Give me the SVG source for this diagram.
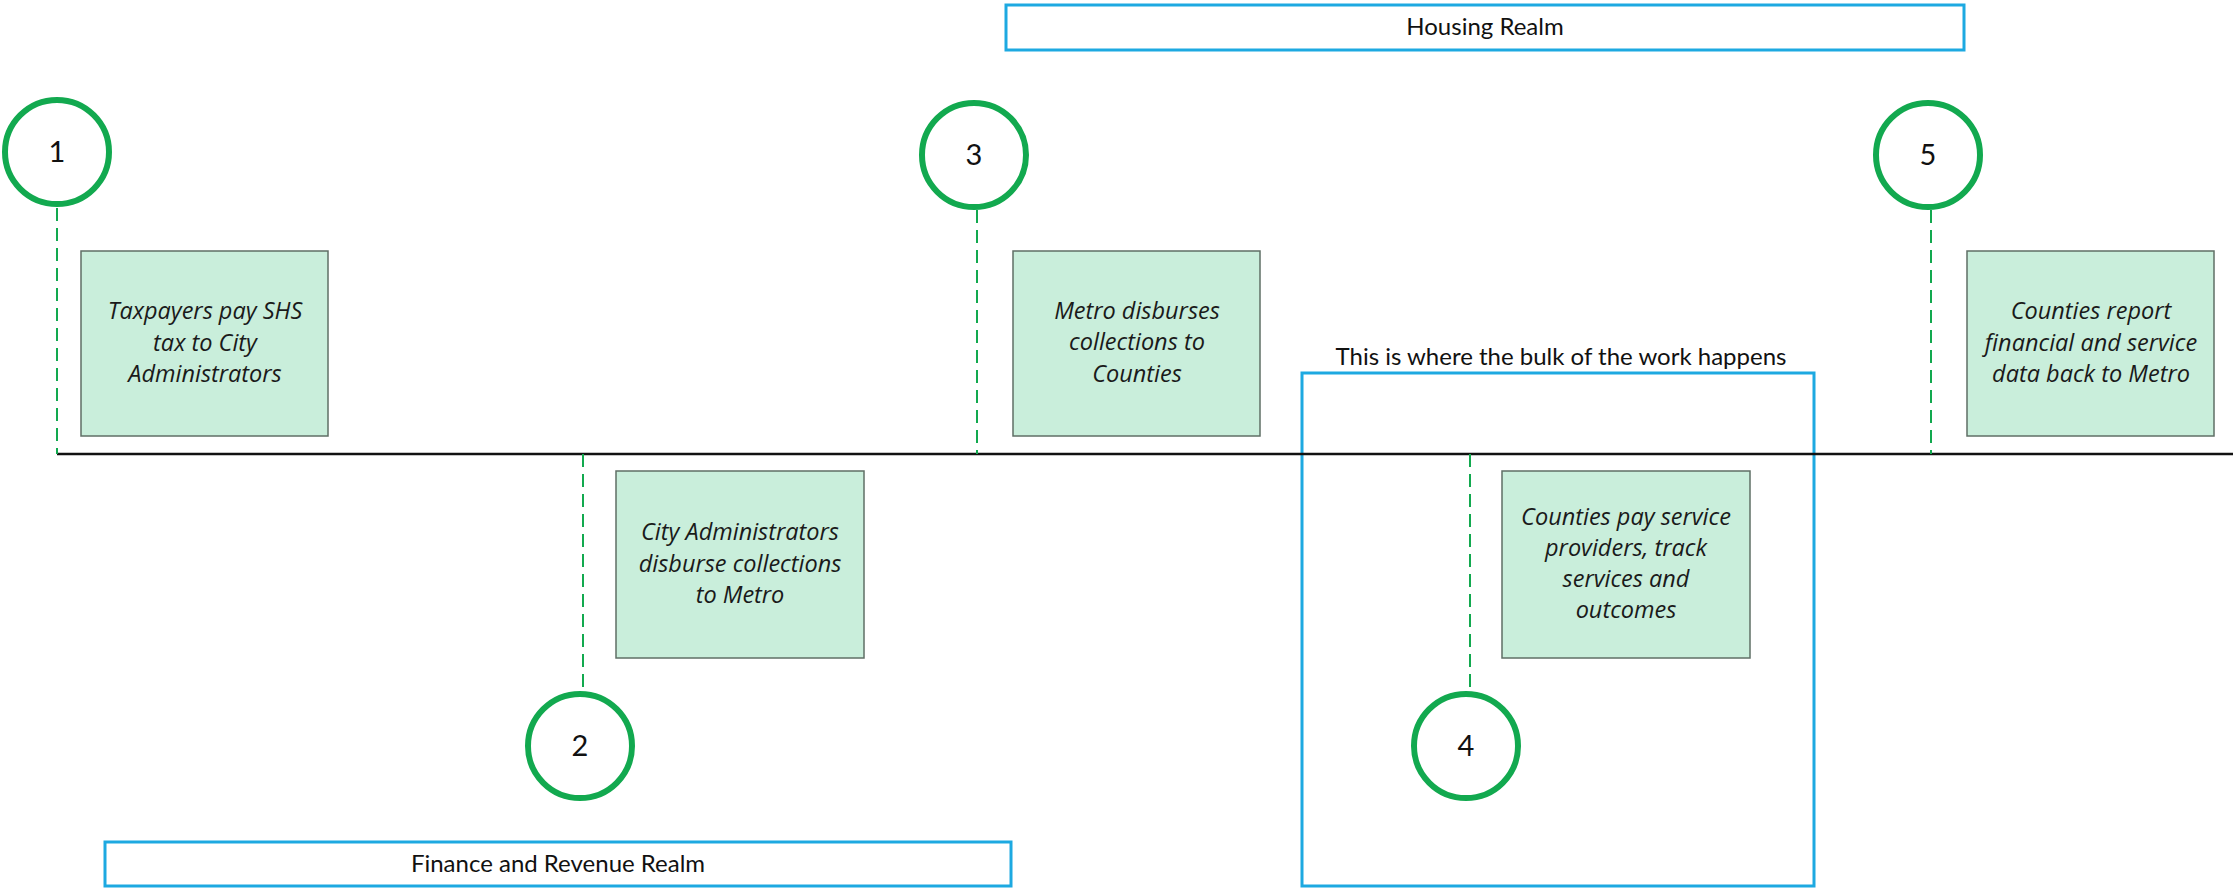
<svg xmlns="http://www.w3.org/2000/svg" width="2233" height="889" viewBox="0 0 2233 889">
<style>
.realm{fill:#ffffff;stroke:#1DA9E1;stroke-width:3}
.lbl{font-family:Lato,"Liberation Sans",sans-serif;font-size:24px;fill:#111;text-anchor:middle}
.step{fill:#C9EEDB;stroke:#5f6f66;stroke-width:1.5}
.stxt{font-family:"Open Sans","Liberation Sans",sans-serif;font-style:italic;font-size:23.5px;fill:#1a1a1a;text-anchor:middle}
.ring{fill:#ffffff;stroke:#12A94F;stroke-width:6}
.num{font-family:Lato,"Liberation Sans",sans-serif;font-size:29px;fill:#111;text-anchor:middle}
.dash{stroke:#12A94F;stroke-width:2;stroke-dasharray:13 7;fill:none}
.axis{stroke:#111;stroke-width:2.5;fill:none}
</style>
<rect width="2233" height="889" fill="#ffffff"/>
<g id="housing-realm">
<rect class="realm" x="1006" y="5" width="958" height="45"/>
<text class="lbl" x="1485" y="35">Housing Realm</text>
</g>
<g id="finance-realm">
<rect class="realm" x="105" y="842" width="906" height="44"/>
<text class="lbl" x="558" y="872">Finance and Revenue Realm</text>
</g>
<g id="work-area">
<rect class="realm" x="1302" y="373" width="512" height="513" style="fill:none"/>
<text class="lbl" x="1561" y="365">This is where the bulk of the work happens</text>
</g>
<g id="connectors">
<line class="axis" x1="57" y1="454" x2="2233" y2="454"/>
<line class="dash" x1="57" y1="208" x2="57" y2="454"/>
<line class="dash" x1="583" y1="454" x2="583" y2="690"/>
<line class="dash" x1="977" y1="210" x2="977" y2="454"/>
<line class="dash" x1="1470" y1="454" x2="1470" y2="690"/>
<line class="dash" x1="1931" y1="210" x2="1931" y2="454"/>
</g>
<g id="step1">
<circle class="ring" cx="57" cy="152" r="52"/>
<text class="num" x="57" y="162">1</text>
<rect class="step" x="81" y="251" width="247" height="185"/>
<text class="stxt" x="205" y="319">Taxpayers pay SHS</text>
<text class="stxt" x="205" y="351">tax to City</text>
<text class="stxt" x="205" y="382">Administrators</text>
</g>
<g id="step2">
<circle class="ring" cx="580" cy="746" r="52"/>
<text class="num" x="580" y="756">2</text>
<rect class="step" x="616" y="471" width="248" height="187"/>
<text class="stxt" x="740" y="540">City Administrators</text>
<text class="stxt" x="740" y="572">disburse collections</text>
<text class="stxt" x="740" y="603">to Metro</text>
</g>
<g id="step3">
<circle class="ring" cx="974" cy="155" r="52"/>
<text class="num" x="974" y="165">3</text>
<rect class="step" x="1013" y="251" width="247" height="185"/>
<text class="stxt" x="1137" y="319">Metro disburses</text>
<text class="stxt" x="1137" y="350">collections to</text>
<text class="stxt" x="1137" y="382">Counties</text>
</g>
<g id="step4">
<circle class="ring" cx="1466" cy="746" r="52"/>
<text class="num" x="1466" y="756">4</text>
<rect class="step" x="1502" y="471" width="248" height="187"/>
<text class="stxt" x="1626" y="525">Counties pay service</text>
<text class="stxt" x="1626" y="556">providers, track</text>
<text class="stxt" x="1626" y="587">services and</text>
<text class="stxt" x="1626" y="618">outcomes</text>
</g>
<g id="step5">
<circle class="ring" cx="1928" cy="155" r="52"/>
<text class="num" x="1928" y="165">5</text>
<rect class="step" x="1967" y="251" width="247" height="185"/>
<text class="stxt" x="2091" y="319">Counties report</text>
<text class="stxt" x="2091" y="351">financial and service</text>
<text class="stxt" x="2091" y="382">data back to Metro</text>
</g>
</svg>
